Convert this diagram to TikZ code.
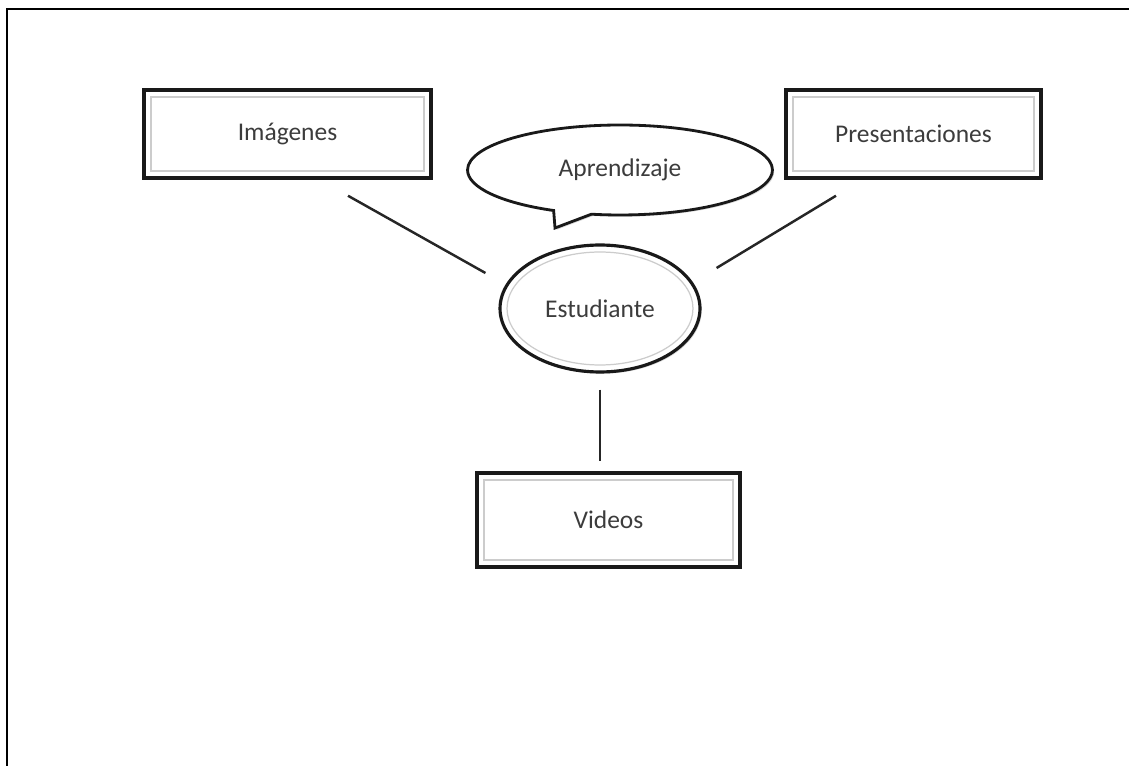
\documentclass[tikz,border=0pt]{standalone}
\usepackage{fontspec}
\setmainfont{Carlito}
\usepackage{tikz}
\usetikzlibrary{shapes.geometric, shapes.callouts, calc, shadows}
\usepackage{xcolor}
\definecolor{textogris}{RGB}{60,60,60}
\tikzset{
    caja/.style={draw=black!90, line width=2pt, fill=white, rectangle,
        font=\fontsize{14.5}{17}\selectfont, text=textogris,
        drop shadow={opacity=0.3, shadow xshift=1pt, shadow yshift=-1pt},
        path picture={\draw[black!20, line width=0.8pt]
            ([shift={(4pt,-4pt)}]path picture bounding box.north west) rectangle
            ([shift={(-4pt,4pt)}]path picture bounding box.south east);}},
    globo/.style={draw=black!90, line width=1.8pt, fill=white, ellipse,
        font=\fontsize{14.5}{17}\selectfont, text=textogris,
        drop shadow={opacity=0.3, shadow xshift=1pt, shadow yshift=-1pt}},
    dialogo/.style={draw=black!90, line width=1.6pt, fill=white, ellipse callout,
        callout pointer width=0.9cm,
        font=\fontsize{14.5}{17}\selectfont, text=textogris,
        drop shadow={opacity=0.3, shadow xshift=1pt, shadow yshift=-1pt}},
    enlace/.style={draw=black!85, line width=1.4pt}
}

\begin{document}
\begin{tikzpicture}[x=0.02cm, y=-0.02cm]
    \useasboundingbox (0,0) rectangle (1129,766);
    % marco
    \draw[line width=0.7pt] (1129,9) -- (7,9) -- (7,766);

    \node[caja, minimum width=5.74cm, minimum height=1.76cm] (imagenes) at (287.5,134) {Imágenes};
    \node[caja, minimum width=5.1cm, minimum height=1.76cm] (presentaciones) at (913.5,134) {Presentaciones};
    \node[caja, minimum width=5.26cm, minimum height=1.88cm] (videos) at (608.5,520) {Videos};
    \node[dialogo, minimum width=6.1cm, minimum height=1.8cm,
        callout absolute pointer={(555,228)}] (aprendizaje) at (620,170) {Aprendizaje};
    \node[globo, minimum width=4cm, minimum height=2.54cm] (estudiante) at (600,308.5) {Estudiante};
    \draw[black!20, line width=0.7pt] (estudiante.center) ellipse [x radius=1.86cm, y radius=1.13cm];

    \coordinate (img-a) at ([shift={(60.5,16)}]imagenes.south);
    \coordinate (est-a) at ([shift={(-13,-35.5)}]estudiante.west);
    \coordinate (pre-a) at ([shift={(-77.5,16)}]presentaciones.south);
    \coordinate (est-b) at ([shift={(15,-40.5)}]estudiante.east);
    \coordinate (est-c) at ([shift={(0,16)}]estudiante.south);
    \coordinate (vid-a) at ([shift={(-8.5,-10)}]videos.north);

    \draw[enlace] (img-a) -- (est-a);
    \draw[enlace] (pre-a) -- (est-b);
    \draw[enlace] (est-c) -- (vid-a);
\end{tikzpicture}
\end{document}
